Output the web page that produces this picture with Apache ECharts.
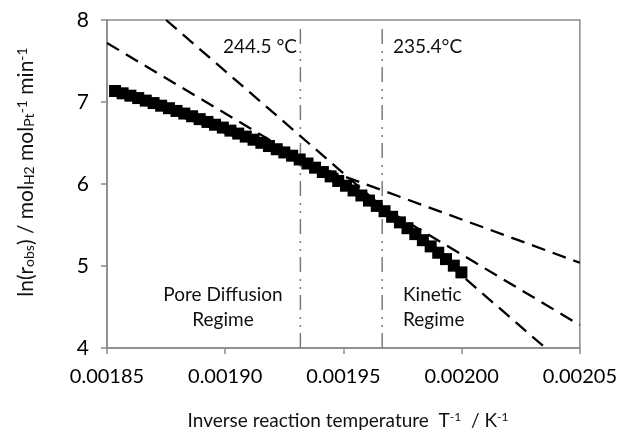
<!DOCTYPE html>
<html><head><meta charset="utf-8">
<script src="https://cdn.jsdelivr.net/npm/echarts@6/dist/echarts.min.js"></script>
<style>html,body{margin:0;padding:0;background:#fff}#c{width:620px;height:431px}</style>
</head><body><div id="c"></div>
<script>
// Data
var invT = [0.0018534,0.0018566,0.0018599,0.0018632,0.0018664,0.0018697,0.0018729,0.0018762,0.0018794,0.0018827,
            0.0018860,0.0018892,0.0018925,0.0018957,0.0018990,0.0019022,0.0019055,0.0019087,0.0019120,0.0019153,
            0.0019185,0.0019218,0.0019250,0.0019283,0.0019315,0.0019348,0.0019380,0.0019413,0.0019446,0.0019478,
            0.0019511,0.0019543,0.0019576,0.0019608,0.0019641,0.0019674,0.0019706,0.0019739,0.0019771,0.0019804,
            0.0019836,0.0019869,0.0019901,0.0019934,0.0019967,0.0019999];
var lnRate = [7.134,7.106,7.077,7.048,7.017,6.987,6.955,6.924,6.891,6.859,
              6.826,6.791,6.757,6.723,6.688,6.651,6.615,6.578,6.540,6.502,
              6.463,6.424,6.385,6.345,6.299,6.250,6.199,6.146,6.093,6.037,
              5.979,5.921,5.860,5.798,5.733,5.668,5.600,5.532,5.461,5.389,
              5.315,5.239,5.162,5.084,5.004,4.922];
// Fit lines (endpoints)
var fitSteep   = [[0.001875, 8.0], [0.0020355, 4.0]];
var fitMiddle  = [[0.00185, 7.72], [0.00205, 4.28]];
var fitShallow = [[0.001855, 7.10], [0.00205, 5.04]];
// Transition temperatures
var transX = [0.0019318, 0.0019664];
var transLabels = ['244.5 °C', '235.4°C'];
var transYTop = 7.95;
var xTicks = [0.00185, 0.00190, 0.00195, 0.00200, 0.00205];
var yTicks = [4, 5, 6, 7, 8];

var FONT = 'Lato, "Open Sans", sans-serif';
var chart = echarts.init(document.getElementById('c'), null, {renderer:'canvas'});

function zip(xs, ys){ return xs.map(function(x,i){return [x, ys[i]];}); }
var dashStyle = {color:'#000', width:2.3, type:[14,8]};
var dashDot = {color:'#7a7a7a', width:1.5, type:[15,6,2,6,2,7]};

var series = [
  {type:'line', data:fitSteep, symbol:'none', lineStyle:dashStyle, z:2, silent:true},
  {type:'line', data:fitMiddle, symbol:'none', lineStyle:dashStyle, z:2, silent:true},
  {type:'line', data:fitShallow, symbol:'none', lineStyle:dashStyle, z:2, silent:true},
  {type:'line', data:[[transX[0],yTicks[0]],[transX[0],transYTop]], symbol:'none', lineStyle:dashDot, z:1, silent:true},
  {type:'line', data:[[transX[1],yTicks[0]],[transX[1],transYTop]], symbol:'none', lineStyle:dashDot, z:1, silent:true},
  {type:'scatter', data:zip(invT, lnRate), symbol:'rect', symbolSize:12, itemStyle:{color:'#000', opacity:1}, z:5}
];

chart.setOption({
  animation:false,
  backgroundColor:'#fff',
  grid:{left:107, top:20, right:40, bottom:83, show:true, borderColor:'#8a8a8a', borderWidth:1.5, backgroundColor:'transparent'},
  xAxis:{type:'value', min:xTicks[0], max:xTicks[xTicks.length-1], interval:0.00005,
    axisLine:{show:true, lineStyle:{color:'#8a8a8a', width:1.5}},
    axisTick:{show:true, length:6, lineStyle:{color:'#8a8a8a', width:1.5}},
    splitLine:{show:false},
    axisLabel:{margin:19, fontSize:20, fontFamily:FONT, color:'#000', formatter:function(v){return v.toFixed(5);}}},
  yAxis:{type:'value', min:yTicks[0], max:yTicks[yTicks.length-1], interval:1,
    axisLine:{show:true, lineStyle:{color:'#8a8a8a', width:1.5}},
    axisTick:{show:true, length:6, lineStyle:{color:'#8a8a8a', width:1.5}},
    splitLine:{show:false},
    axisLabel:{margin:18, fontSize:21, fontFamily:FONT, color:'#000'}},
  series:series,
  graphic:[
    {type:'text', x:297, y:47, style:{text:transLabels[0], align:'right', verticalAlign:'middle', font:'19px '+FONT, fill:'#111'}},
    {type:'text', x:393, y:47, style:{text:transLabels[1], align:'left', verticalAlign:'middle', font:'19px '+FONT, fill:'#111'}},
    {type:'text', x:223, y:295, style:{text:'Pore Diffusion', align:'center', verticalAlign:'middle', font:'19px '+FONT, fill:'#111'}},
    {type:'text', x:223, y:320, style:{text:'Regime', align:'center', verticalAlign:'middle', font:'19px '+FONT, fill:'#111'}},
    {type:'text', x:403, y:295, style:{text:'Kinetic', align:'left', verticalAlign:'middle', font:'19px '+FONT, fill:'#111'}},
    {type:'text', x:403, y:320, style:{text:'Regime', align:'left', verticalAlign:'middle', font:'19px '+FONT, fill:'#111'}},
    {type:'text', x:348, y:421, style:{
      text:'Inverse reaction temperature  T{sup|-1}  / K{sup|-1}', align:'center', verticalAlign:'middle',
      fontSize:19, fontFamily:FONT, fill:'#111',
      rich:{sup:{fontSize:12, fontFamily:FONT, fill:'#111', verticalAlign:'top', lineHeight:12}}}},
    {type:'text', x:26, y:172, rotation:Math.PI/2, style:{
      text:'ln(r{sub|obs}) / mol{sub|H2} mol{sub|Pt}{sup|-1} min{sup|-1}', align:'center', verticalAlign:'middle',
      fontSize:21, fontFamily:FONT, fill:'#111',
      rich:{sub:{fontSize:14, fontFamily:FONT, fill:'#111', verticalAlign:'bottom', lineHeight:13},
            sup:{fontSize:14, fontFamily:FONT, fill:'#111', verticalAlign:'top', lineHeight:13}}}}
  ]
});
</script></body></html>
